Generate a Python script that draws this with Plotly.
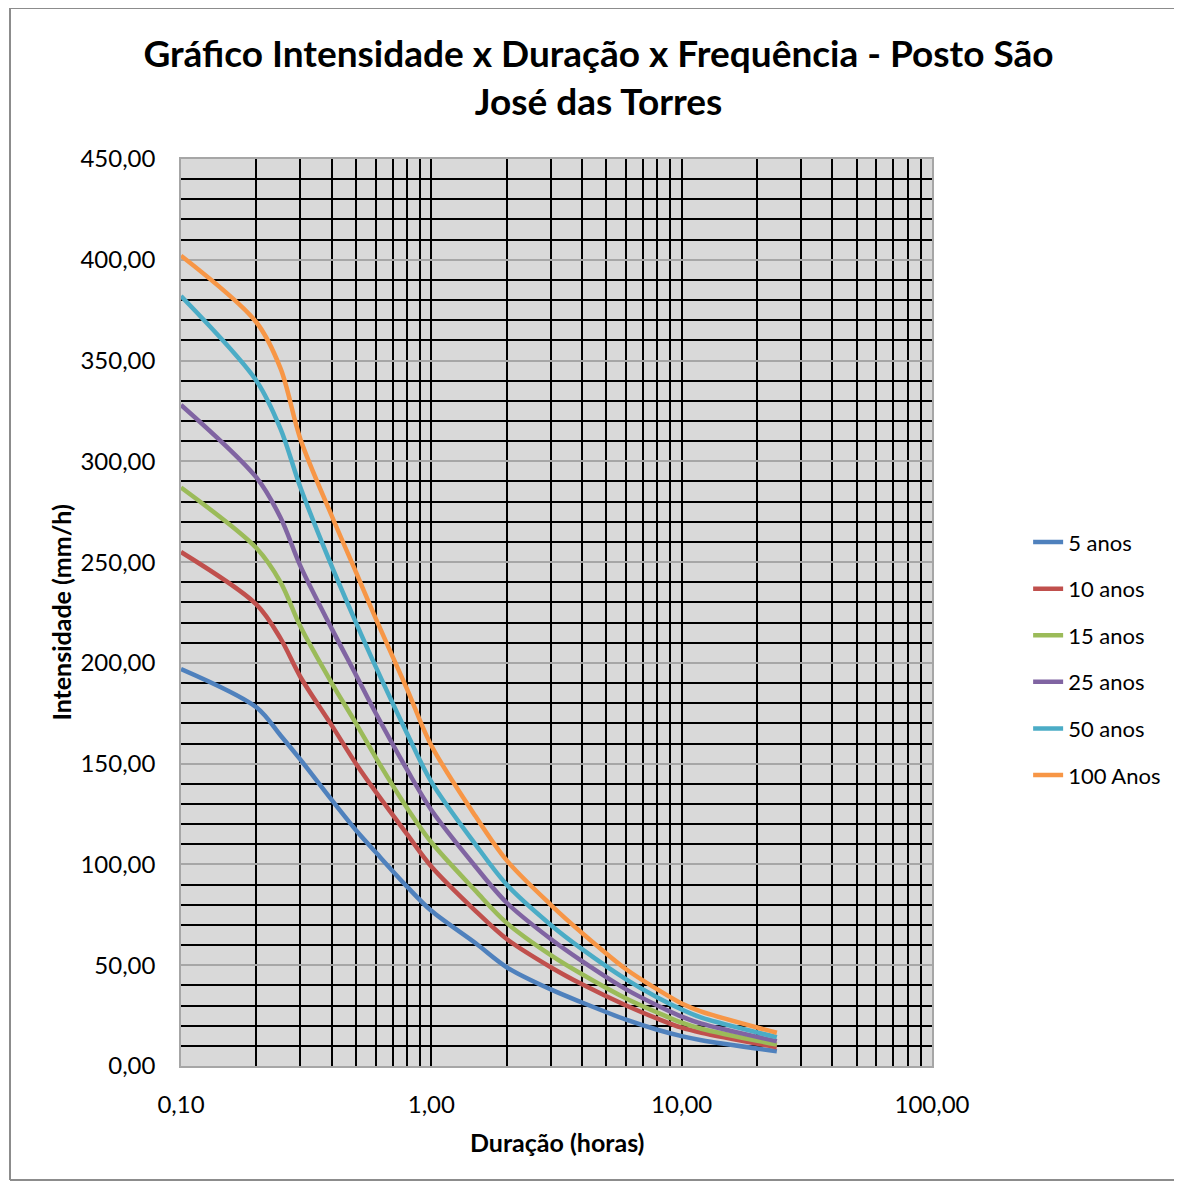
import plotly.graph_objects as go

durations = [0.1, 0.2, 0.25, 0.3, 0.4, 0.5, 0.6, 0.8, 1, 1.5, 2, 3, 4, 6, 8, 10, 12, 24]

i_5 = [197, 178, 164, 152, 132, 117, 106, 89, 77, 61, 49, 38, 31.5, 23, 18, 14.8, 12.8, 7.3]
i_10 = [255, 229, 212, 193, 169, 150, 136, 115, 99, 77, 63, 49, 40.5, 30, 23.5, 19, 16.5, 9.3]
i_15 = [287, 257, 240, 218, 190, 170, 153, 128, 111, 87, 71, 55, 45.5, 33.5, 26.5, 21.5, 18.5, 10.6]
i_25 = [328, 292, 272, 248, 217, 194, 175, 147, 127, 99, 81, 63, 52, 38, 30, 24.5, 21, 12.3]
i_50 = [382, 340, 316, 287, 248, 220, 198, 165, 141, 110, 90, 70, 58, 43, 34, 28, 24, 14.3]
i_100 = [402, 369, 346, 311, 273, 245, 222, 187, 159, 124, 102, 80, 66, 48, 38, 31, 27, 16.5]

series_names = ["5 anos", "10 anos", "15 anos", "25 anos", "50 anos", "100 Anos"]
series_values = [i_5, i_10, i_15, i_25, i_50, i_100]
series_colors = ["#4F81BD", "#C0504D", "#9BBB59", "#8064A2", "#4BACC6", "#F79646"]

x_tickvals = [0.1, 1, 10, 100]
y_tickvals = [0, 50, 100, 150, 200, 250, 300, 350, 400, 450]

FONT = "Lato"

fig = go.Figure()
for name, vals, col in zip(series_names, series_values, series_colors):
    fig.add_trace(go.Scatter(
        x=durations, y=vals, name=name, mode="lines",
        line=dict(color=col, width=4.5, shape="spline", smoothing=0.9),
        legendgroup=name,
    ))

fig.update_layout(
    width=1174, height=1177,
    margin=dict(l=173, r=250, t=151, b=119),
    paper_bgcolor="white",
    plot_bgcolor="#D9D9D9",
    separators=", ",
    font=dict(family=FONT, color="#000000", size=24),
    title=dict(
        text="<b>Gráfico Intensidade x Duração x Frequência - Posto São<br>José das Torres</b>",
        x=0.503, xanchor="center", y=0.95, yanchor="middle",
        font=dict(family=FONT, size=37, color="#000000"),
    ),
    showlegend=True,
    legend=dict(
        x=1.128, xanchor="left", y=0.449, yanchor="middle",
        font=dict(family=FONT, size=22, color="#000000"),
        tracegroupgap=15, bgcolor="rgba(0,0,0,0)",
    ),
)

fig.update_xaxes(
    type="log", range=[-1, 2],
    tickvals=x_tickvals, tickformat=".2f",
    tickfont=dict(family=FONT, size=24, color="#000000"),
    ticks="", ticklabelstandoff=16,
    showgrid=True, gridcolor="#000000", gridwidth=1.5,
    minor=dict(dtick="D1", showgrid=True, gridcolor="#000000", gridwidth=1.5, ticks=""),
    showline=True, linecolor="#A6A6A6", linewidth=1.5, mirror=True,
    zeroline=False,
)
fig.update_yaxes(
    range=[0, 450],
    tickvals=y_tickvals, tickformat=".2f",
    tickfont=dict(family=FONT, size=24, color="#000000"),
    ticks="", ticklabelstandoff=19,
    showgrid=True, gridcolor="#A6A6A6", gridwidth=1.5,
    minor=dict(dtick=10, showgrid=True, gridcolor="#000000", gridwidth=1.5, ticks=""),
    showline=True, linecolor="#A6A6A6", linewidth=1.5, mirror=True,
    zeroline=False,
)

fig.add_annotation(
    text="<b>Intensidade (mm/h)</b>", xref="paper", yref="paper",
    x=-0.161, y=0.5, xanchor="center", yanchor="middle", textangle=-90,
    showarrow=False, font=dict(family=FONT, size=25, color="#000000"),
)
fig.add_annotation(
    text="<b>Duração (horas)</b>", xref="paper", yref="paper",
    x=0.5, y=-0.0838, xanchor="center", yanchor="middle",
    showarrow=False, font=dict(family=FONT, size=25, color="#000000"),
)

# outer chart frame (left, top, bottom edges)
frame_line = dict(color="#8C8C8C", width=2)
fig.add_shape(type="line", xref="paper", yref="paper",
              x0=-0.2277, x1=-0.2277, y0=-0.1257, y1=1.1665, line=frame_line, layer="below")
fig.add_shape(type="line", xref="paper", yref="paper",
              x0=-0.2277, x1=1.33, y0=1.1665, y1=1.1665, line=frame_line, layer="below")
fig.add_shape(type="line", xref="paper", yref="paper",
              x0=-0.2277, x1=1.33, y0=-0.1257, y1=-0.1257, line=frame_line, layer="below")

fig.write_html("out.html")
